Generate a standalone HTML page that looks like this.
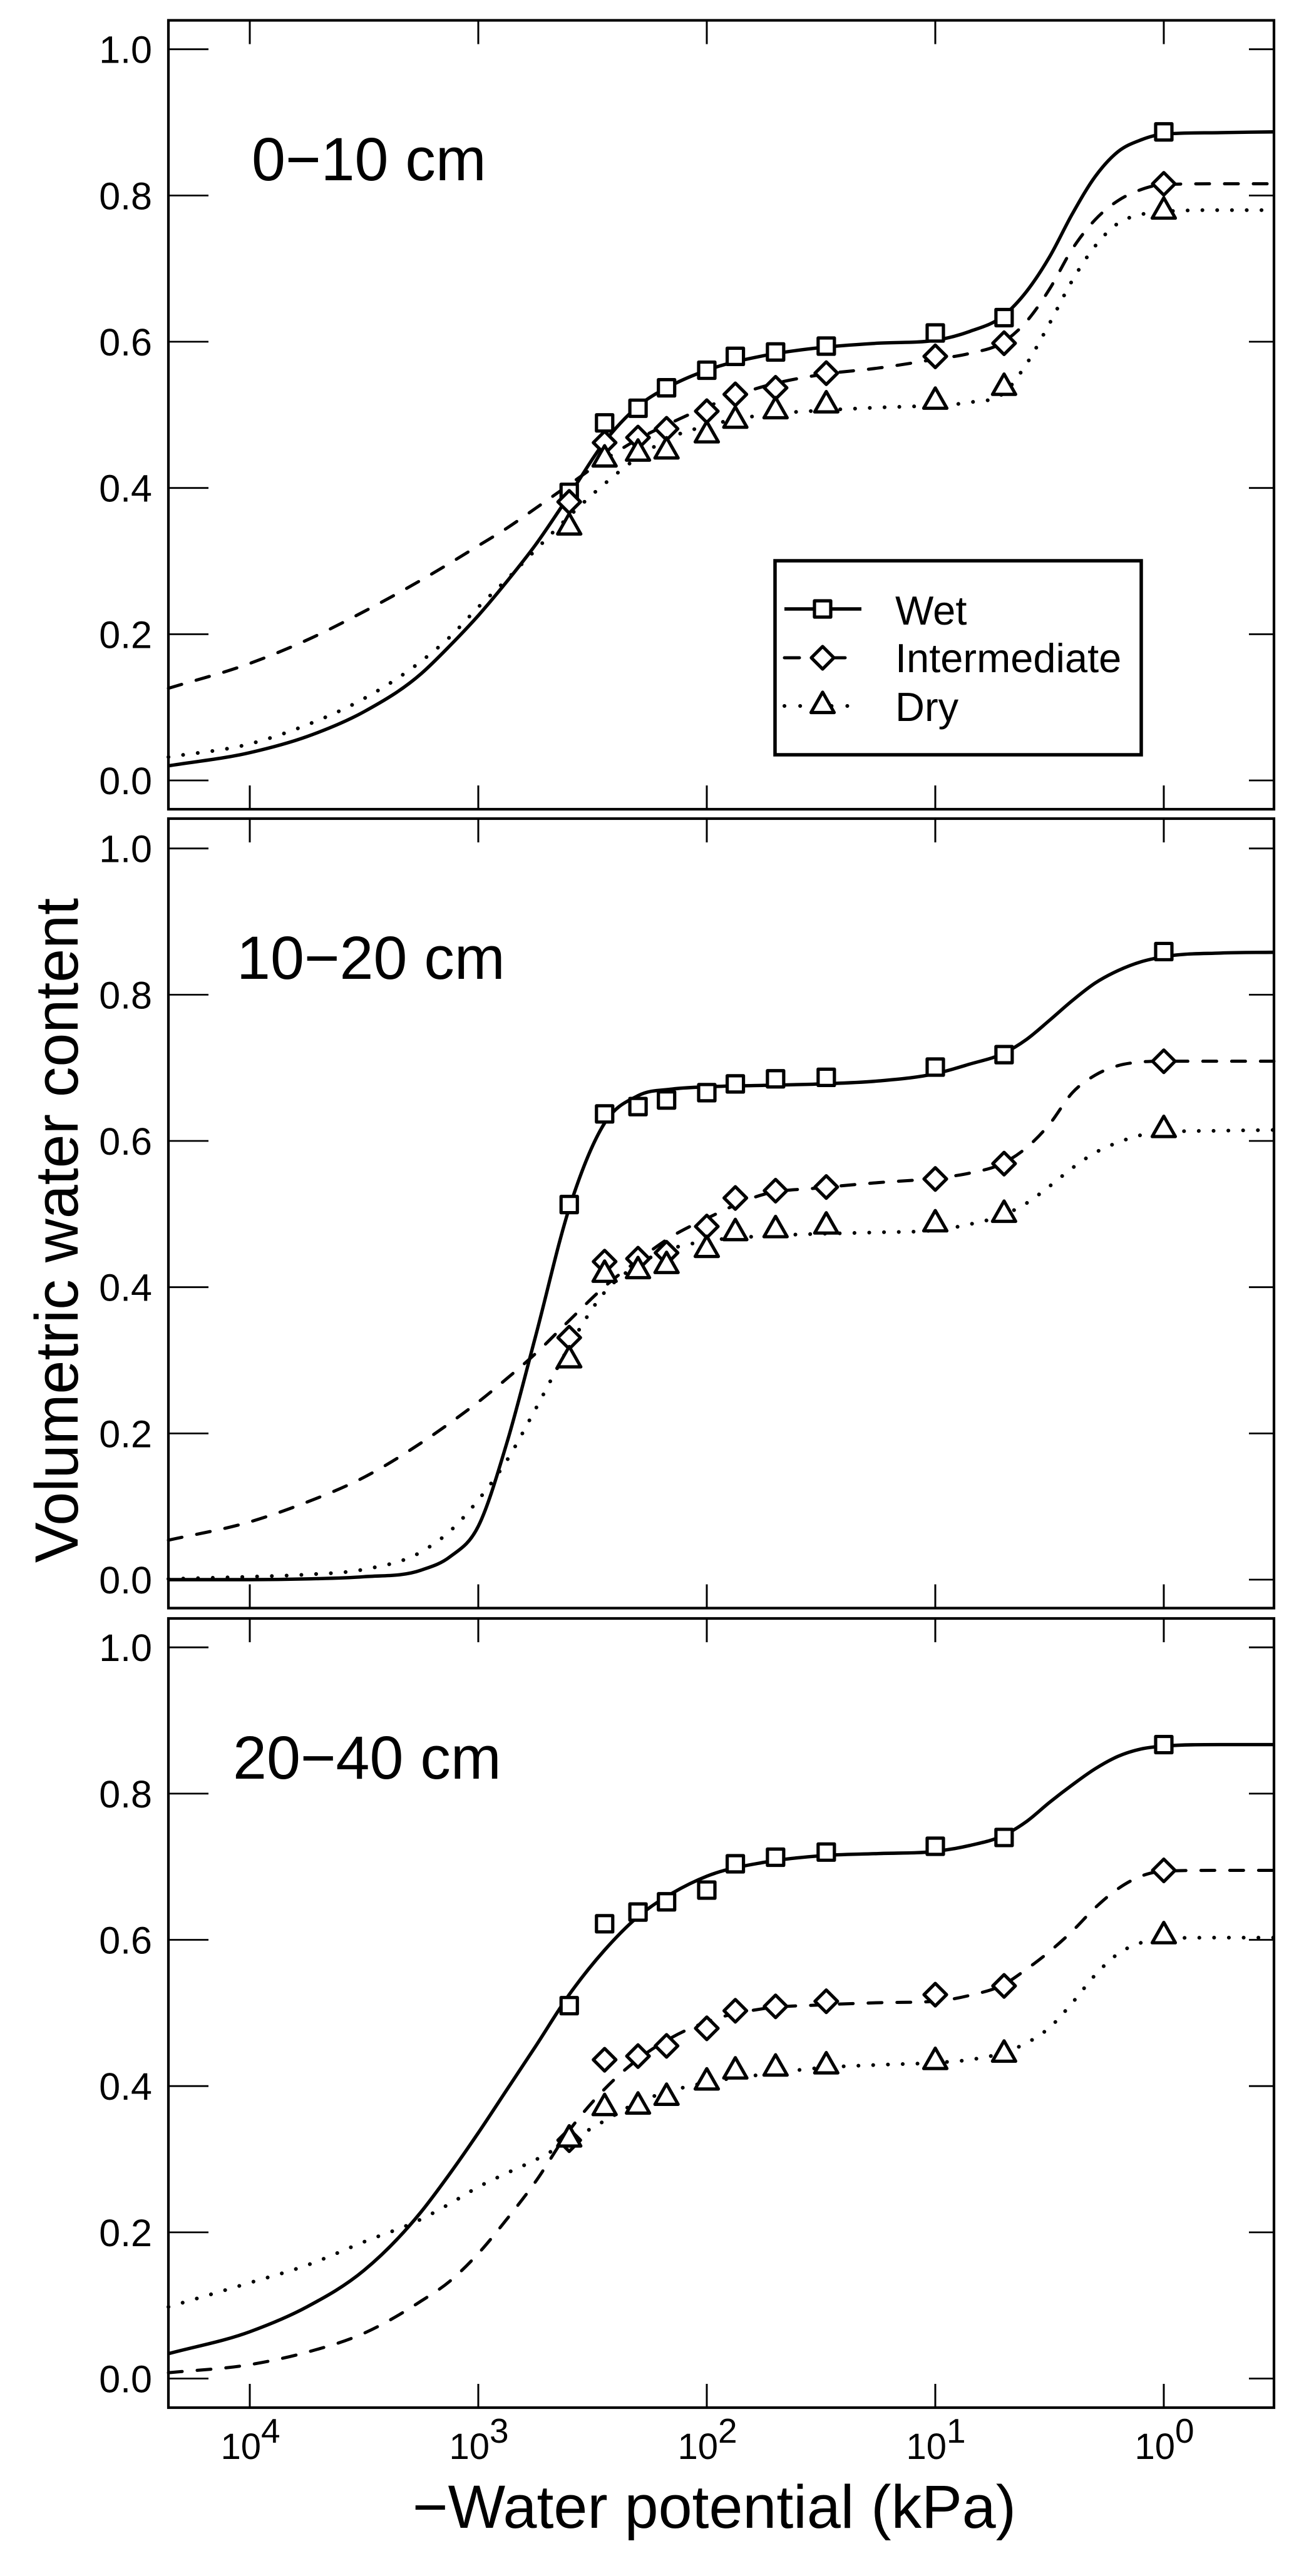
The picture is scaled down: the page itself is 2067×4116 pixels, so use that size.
<!DOCTYPE html>
<html lang="en">
<head>
<meta charset="utf-8">
<title>Soil water retention curves</title>
<style>
html,body{margin:0;padding:0;background:#fff;}
svg{display:block;}
text{font-family:"Liberation Sans",Arial,sans-serif;fill:#000;}
</style>
</head>
<body>
<svg id="chart" xmlns="http://www.w3.org/2000/svg" width="2067" height="4116" viewBox="0 0 2067 4116">
  <rect x="0" y="0" width="2067" height="4116" fill="#fff"/>
  <g id="panels"></g>

  <text x="402" y="288" font-size="97">0−10 cm</text>
  <text x="378" y="1564" font-size="97">10−20 cm</text>
  <text x="372" y="2842" font-size="97">20−40 cm</text>

  <text transform="translate(124,1966) rotate(-90)" text-anchor="middle" font-size="97">Volumetric water content</text>
  <text x="1141" y="4039" text-anchor="middle" font-size="97">−Water potential (kPa)</text>

  <g id="legend">
    <rect x="1238" y="896" width="585" height="310" fill="#fff" stroke="#000" stroke-width="5.5"/>
    <g id="legend-keys"></g>
    <text x="1430" y="998" font-size="65">Wet</text>
    <text x="1430" y="1074" font-size="65">Intermediate</text>
    <text x="1430" y="1152" font-size="65">Dry</text>
  </g>
</svg>
<script>
// ---- Data ----
const yTickValues = [0, 0.2, 0.4, 0.6, 0.8, 1];
const yTickLabels = ["0.0", "0.2", "0.4", "0.6", "0.8", "1.0"];
const xTickExponents = [4, 3, 2, 1, 0];
const xTickBase = "10";

// Water potential (kPa) of the measured points
const measuredPotentials = [400, 280, 200, 150, 100, 75, 50, 30, 10, 5, 1];
// log10 of water potential at which the fitted curves were read
const curveExponents = [4.356, 4, 3.75, 3.5, 3.25, 3.125, 3, 2.875, 2.75, 2.6, 2.45, 2.3, 2.15, 2, 1.75, 1.5, 1.25, 1, 0.85, 0.7, 0.6, 0.5, 0.4, 0.3, 0.2, 0.1, 0, -0.25, -0.482];

// 0-10 cm
const wetPoints0to10 = [0.394, 0.489, 0.509, 0.537, 0.561, 0.580, 0.586, 0.594, 0.612, 0.633, 0.887];
const intermediatePoints0to10 = [0.381, 0.462, 0.469, 0.481, 0.505, 0.528, 0.537, 0.557, 0.580, 0.598, 0.816];
const dryPoints0to10 = [0.346, 0.439, 0.447, 0.450, 0.472, 0.492, 0.505, 0.513, 0.518, 0.537, 0.778];
const wetCurve0to10 = [0.020, 0.038, 0.060, 0.094, 0.146, 0.184, 0.2255, 0.272, 0.322, 0.391, 0.462, 0.512, 0.541, 0.561, 0.581, 0.592, 0.598, 0.602, 0.614, 0.636, 0.669, 0.716, 0.775, 0.826, 0.860, 0.876, 0.884, 0.886, 0.887];
const intermediateCurve0to10 = [0.126, 0.160, 0.192, 0.231, 0.274, 0.297, 0.321, 0.345, 0.372, 0.405, 0.438, 0.467, 0.490, 0.511, 0.539, 0.555, 0.564, 0.576, 0.584, 0.600, 0.628, 0.672, 0.727, 0.767, 0.793, 0.808, 0.815, 0.816, 0.816];
const dryCurve0to10 = [0.032, 0.050, 0.076, 0.112, 0.163, 0.196, 0.237, 0.275, 0.315, 0.362, 0.405, 0.442, 0.470, 0.485, 0.500, 0.506, 0.510, 0.513, 0.517, 0.530, 0.570, 0.625, 0.684, 0.731, 0.762, 0.774, 0.778, 0.780, 0.780];

// 10-20 cm
const wetPoints10to20 = [0.513, 0.637, 0.647, 0.656, 0.666, 0.678, 0.685, 0.687, 0.701, 0.718, 0.859];
const intermediatePoints10to20 = [0.331, 0.435, 0.439, 0.447, 0.483, 0.522, 0.532, 0.537, 0.548, 0.569, 0.709];
const dryPoints10to20 = [0.300, 0.417, 0.422, 0.429, 0.451, 0.474, 0.478, 0.483, 0.486, 0.499, 0.615];
const wetCurve10to20 = [0, 0, 0.001, 0.004, 0.013, 0.031, 0.073, 0.187, 0.332, 0.510, 0.623, 0.662, 0.671, 0.674, 0.676, 0.678, 0.682, 0.692, 0.705, 0.720, 0.739, 0.765, 0.792, 0.816, 0.833, 0.845, 0.852, 0.857, 0.858];
const intermediateCurve10to20 = [0.054, 0.079, 0.106, 0.140, 0.187, 0.214, 0.243, 0.275, 0.309, 0.355, 0.400, 0.437, 0.470, 0.494, 0.527, 0.536, 0.543, 0.549, 0.556, 0.570, 0.591, 0.623, 0.666, 0.690, 0.703, 0.708, 0.709, 0.709, 0.709];
const dryCurve10to20 = [0.001, 0.004, 0.007, 0.014, 0.038, 0.066, 0.109, 0.163, 0.233, 0.320, 0.392, 0.431, 0.453, 0.463, 0.470, 0.473, 0.475, 0.478, 0.486, 0.499, 0.515, 0.538, 0.563, 0.584, 0.598, 0.608, 0.612, 0.614, 0.615];

// 20-40 cm
const wetPoints20to40 = [0.510, 0.622, 0.638, 0.652, 0.668, 0.704, 0.713, 0.720, 0.728, 0.740, 0.867];
const intermediatePoints20to40 = [0.326, 0.436, 0.441, 0.455, 0.479, 0.503, 0.509, 0.516, 0.525, 0.537, 0.695];
const dryPoints20to40 = [0.327, 0.370, 0.372, 0.384, 0.405, 0.420, 0.424, 0.427, 0.433, 0.443, 0.605];
const wetCurve20to40 = [0.034, 0.064, 0.098, 0.148, 0.228, 0.280, 0.336, 0.395, 0.454, 0.526, 0.585, 0.632, 0.664, 0.687, 0.706, 0.715, 0.718, 0.721, 0.729, 0.743, 0.762, 0.788, 0.812, 0.834, 0.851, 0.861, 0.865, 0.867, 0.867];
const intermediateCurve20to40 = [0.008, 0.019, 0.036, 0.062, 0.106, 0.133, 0.171, 0.218, 0.269, 0.340, 0.395, 0.437, 0.467, 0.488, 0.506, 0.511, 0.514, 0.516, 0.524, 0.539, 0.560, 0.584, 0.612, 0.644, 0.670, 0.687, 0.694, 0.695, 0.695];
const dryCurve20to40 = [0.098, 0.131, 0.155, 0.187, 0.218, 0.239, 0.262, 0.281, 0.299, 0.325, 0.352, 0.378, 0.394, 0.405, 0.416, 0.425, 0.429, 0.432, 0.436, 0.446, 0.459, 0.480, 0.514, 0.552, 0.581, 0.596, 0.602, 0.603, 0.603];

// ---- Layout ----
const SVG_NS = "http://www.w3.org/2000/svg";
const plotLeft = 269, plotRight = 2035;
const xZeroPixel = 1859, pixelsPerDecade = 365;
const pixelsPerUnit = 1168.3;

const panels = [
  { key: "0-10-cm", top: 32.5, bottom: 1293, zero: 1247,
    wetCurve: wetCurve0to10, intermediateCurve: intermediateCurve0to10, dryCurve: dryCurve0to10,
    wetPoints: wetPoints0to10, intermediatePoints: intermediatePoints0to10, dryPoints: dryPoints0to10 },
  { key: "10-20-cm", top: 1308, bottom: 2569.5, zero: 2524,
    wetCurve: wetCurve10to20, intermediateCurve: intermediateCurve10to20, dryCurve: dryCurve10to20,
    wetPoints: wetPoints10to20, intermediatePoints: intermediatePoints10to20, dryPoints: dryPoints10to20 },
  { key: "20-40-cm", top: 2586, bottom: 3847, zero: 3800.5,
    wetCurve: wetCurve20to40, intermediateCurve: intermediateCurve20to40, dryCurve: dryCurve20to40,
    wetPoints: wetPoints20to40, intermediatePoints: intermediatePoints20to40, dryPoints: dryPoints20to40 }
];

function xFromExponent(e) { return xZeroPixel - pixelsPerDecade * e; }
function xFromPotential(p) { return xFromExponent(Math.log10(p)); }
function yFromValue(panel, v) { return panel.zero - pixelsPerUnit * v; }

function make(tag, attrs, parent) {
  const el = document.createElementNS(SVG_NS, tag);
  for (const k in attrs) el.setAttribute(k, attrs[k]);
  parent.appendChild(el);
  return el;
}

// Smooth cubic path through pixel points (three-point tangents, limited to stay monotone)
function smoothPath(pts) {
  const n = pts.length;
  const dx = [], sec = [];
  for (let i = 0; i < n - 1; i++) {
    dx.push(pts[i + 1][0] - pts[i][0]);
    sec.push((pts[i + 1][1] - pts[i][1]) / dx[i]);
  }
  const m = [sec[0]];
  for (let i = 1; i < n - 1; i++) {
    if (sec[i - 1] * sec[i] <= 0) { m.push(0); continue; }
    let t = (dx[i - 1] * sec[i] + dx[i] * sec[i - 1]) / (dx[i - 1] + dx[i]);
    const limit = 3 * Math.min(Math.abs(sec[i - 1]), Math.abs(sec[i]));
    if (Math.abs(t) > limit) t = Math.sign(t) * limit;
    m.push(t);
  }
  m.push(sec[n - 2]);
  let d = "M" + pts[0][0].toFixed(2) + " " + pts[0][1].toFixed(2);
  for (let i = 0; i < n - 1; i++) {
    const h = dx[i] / 3;
    d += "C" + (pts[i][0] + h).toFixed(2) + " " + (pts[i][1] + m[i] * h).toFixed(2) + " " +
      (pts[i + 1][0] - h).toFixed(2) + " " + (pts[i + 1][1] - m[i + 1] * h).toFixed(2) + " " +
      pts[i + 1][0].toFixed(2) + " " + pts[i + 1][1].toFixed(2);
  }
  return d;
}

function markerSquare(cx, cy, parent) {
  const el = make("rect", { x: cx - 13, y: cy - 13, width: 26, height: 26, fill: "#fff", stroke: "#000", "stroke-width": 5.2, "stroke-linejoin": "round" }, parent);
  return el;
}
function markerDiamond(cx, cy, parent) {
  const pts = [[cx, cy - 18], [cx + 18, cy], [cx, cy + 18], [cx - 18, cy]].map(p => p.join(",")).join(" ");
  const el = make("polygon", { points: pts, fill: "#fff", stroke: "#000", "stroke-width": 5.2, "stroke-linejoin": "round" }, parent);
  return el;
}
function markerTriangle(cx, cy, parent) {
  const pts = [[cx, cy - 22], [cx + 18.5, cy + 10.5], [cx - 18.5, cy + 10.5]].map(p => p.join(",")).join(" ");
  const el = make("polygon", { points: pts, fill: "#fff", stroke: "#000", "stroke-width": 5.2, "stroke-linejoin": "round" }, parent);
  return el;
}

const dashStyles = {
  wet: {},
  intermediate: { "stroke-dasharray": "22 24", "stroke-linecap": "round" },
  dry: { "stroke-dasharray": "0.1 23.5", "stroke-linecap": "round" }
};
const seriesWidth = { wet: 5.4, intermediate: 5, dry: 6 };
const markerFor = { wet: markerSquare, intermediate: markerDiamond, dry: markerTriangle };

const panelsRoot = document.getElementById("panels");

panels.forEach(function (panel) {
  const g = make("g", {}, panelsRoot);
  
  

  ["wet", "intermediate", "dry"].forEach(function (series) {
    const curveValues = panel[series + "Curve"];
    const pts = curveExponents.map(function (e, i) {
      return [xFromExponent(e), yFromValue(panel, curveValues[i])];
    });
    const attrs = { d: smoothPath(pts), fill: "none", stroke: "#000", "stroke-width": seriesWidth[series] };
    Object.assign(attrs, dashStyles[series]);
    const line = make("path", attrs, g);
    
    
  });

  ["wet", "intermediate", "dry"].forEach(function (series) {
    panel[series + "Points"].forEach(function (v, i) {
      const cx = xFromPotential(measuredPotentials[i]);
      const cy = yFromValue(panel, v);
      const mark = markerFor[series](cx, cy, g);
      
      
    });
  });

  const frame = make("rect", { x: plotLeft, y: panel.top, width: plotRight - plotLeft, height: panel.bottom - panel.top, fill: "none", stroke: "#000", "stroke-width": 4.2 }, g);
  
  

  yTickValues.forEach(function (v, i) {
    const y = yFromValue(panel, v);
    const leftTick = make("line", { x1: plotLeft, x2: 333, y1: y, y2: y, stroke: "#000", "stroke-width": 2.8 }, g);
    
    
    const rightTick = make("line", { x1: 1995, x2: plotRight, y1: y, y2: y, stroke: "#000", "stroke-width": 2.8 }, g);
    
    
    const label = make("text", { x: 243, y: y + 22, "text-anchor": "end", "font-size": 61 }, g);
    label.textContent = yTickLabels[i];
    
    
  });

  xTickExponents.forEach(function (e) {
    const x = xFromExponent(e);
    const topTick = make("line", { x1: x, x2: x, y1: panel.top, y2: panel.top + 38, stroke: "#000", "stroke-width": 3 }, g);
    
    
    const bottomTick = make("line", { x1: x, x2: x, y1: panel.bottom - 38, y2: panel.bottom, stroke: "#000", "stroke-width": 3 }, g);
    
    
  });
});

// x tick labels on bottom panel only
xTickExponents.forEach(function (e) {
  const label = make("text", { x: xFromExponent(e) + 1, y: 3929, "text-anchor": "middle", "font-size": 58 }, panelsRoot);
  
  
  const base = make("tspan", {}, label);
  base.textContent = xTickBase;
  const sup = make("tspan", { dy: -26, "font-size": 55 }, label);
  sup.textContent = String(e);
});

// legend keys
const legendKeys = document.getElementById("legend-keys");
const legendRows = [["wet", 973], ["intermediate", 1051], ["dry", 1128]];
legendRows.forEach(function (row) {
  const series = row[0], y = row[1];
  const attrs = { x1: 1253, x2: 1376, y1: y, y2: y, stroke: "#000", "stroke-width": seriesWidth[series] };
  if (series === "intermediate") { attrs["stroke-dasharray"] = "24 49"; attrs["stroke-linecap"] = "round"; }
  if (series === "dry") { attrs["stroke-dasharray"] = "0.1 25"; attrs["stroke-linecap"] = "round"; }
  const line = make("line", attrs, legendKeys);
  
  
  const mark = markerFor[series](1314, y, legendKeys);
  
  
});
</script>
</body>
</html>
